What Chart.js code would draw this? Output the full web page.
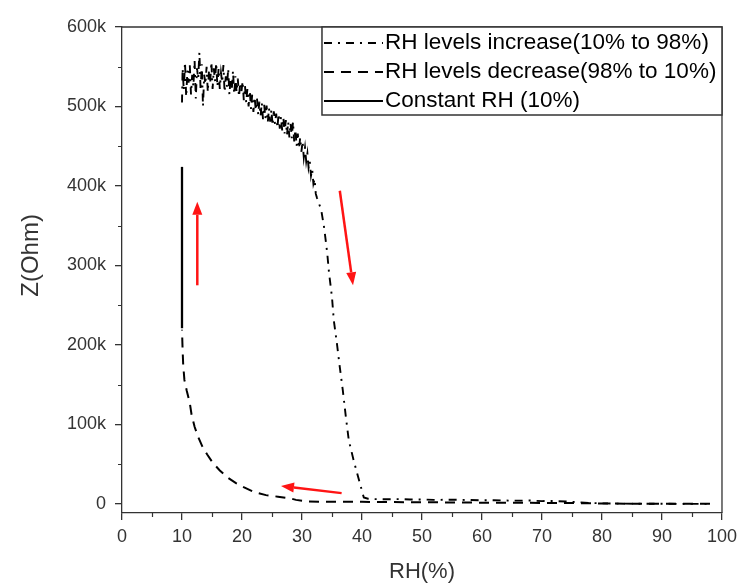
<!DOCTYPE html>
<html>
<head>
<meta charset="utf-8">
<title>Impedance vs RH</title>
<script src="https://cdn.jsdelivr.net/npm/chart.js@4.4.1/dist/chart.umd.min.js"></script>
<style>
  html, body { margin: 0; padding: 0; background: #fff; }
  canvas { display: block; }
</style>
</head>
<body>
<canvas id="chart" width="743" height="585"></canvas>
<script>
// Relative humidity (%) and impedance (kOhm) while RH is stepped up, 10% -> 98%
const incRH = [
  10.0,10.1,10.3,10.5,10.7,10.9,11.1,11.3,11.5,11.7,
  11.9,12.1,12.3,12.5,12.7,12.9,13.1,13.3,13.5,13.7,
  13.9,14.1,14.3,14.5,14.7,14.9,15.1,15.3,15.5,15.7,
  15.9,16.1,16.3,16.5,16.7,16.9,17.1,17.3,17.5,17.7,
  17.9,18.1,18.3,18.5,18.7,18.9,19.1,19.3,19.5,19.7,
  19.9,20.1,20.3,20.5,20.7,20.9,21.1,21.3,21.5,21.7,
  21.9,22.1,22.3,22.5,22.7,22.9,23.1,23.3,23.5,23.7,
  23.9,24.1,24.3,24.5,24.7,24.9,25.1,25.3,25.5,25.7,
  25.9,26.1,26.3,26.5,26.7,26.9,27.1,27.3,27.5,27.7,
  27.9,28.1,28.3,28.5,28.7,28.9,29.1,29.3,29.5,29.7,
  29.9,30.1,30.3,30.5,30.7,30.9,31.1,31.3,31.5,31.7,
  31.9,32.1,32.3,32.5,33.2,33.7,34.2,34.5,35.0,35.3,
  35.8,36.3,36.8,37.3,37.8,38.6,39.5,40.3,41,42,
  44,46,48,50,52,55,58,60,62,65,
  68,70,72,74,76,78,80,83,86,90,
  94,98
];
const incZ = [
  505,548,520,556,512,545,530,552,515,540,
  525,558,510,548,535,568,520,553,500,540,
  528,550,518,545,530,556,522,548,532,555,
  525,548,522,542,530,552,518,538,525,548,
  515,535,522,545,515,538,518,535,512,530,
  518,532,508,526,505,522,500,520,497,515,
  493,512,495,510,490,506,488,505,484,502,
  485,501,480,498,481,496,476,494,478,491,
  473,491,472,487,470,486,466,483,464,481,
  461,479,460,481,456,471,450,466,447,461,
  443,456,436,448,431,441,423,431,413,421,
  403,409,390,385,370,347,316,291,260,231,
  203,172,143,110,80,55,30,8,6.5,6,
  5.8,6,5.5,5.5,5,5.2,4.8,4.5,4.6,4,
  4.2,3.5,3.6,3,2,1.2,0.6,0.3,0.2,0.1,
  0,0
];

// RH stepped back down, 98% -> 10%
const decRH = [98,94,90,85,80,75,70,65,60,55,50,45,40,35,31,29,28,26,24,22,
               20,19,17.6,16.3,15.1,14.2,13.4,12.7,12.1,11.6,11.3,10.8,10.4,10.2,10.1,10.0];
const decZ  = [0,0,0,0.2,0.5,1,1.2,1.5,1.5,1.8,2,2.2,2.5,2.5,3,5,7,9,11,15,
               22,26,33,42,52,62,72,84,97,112,127,142,156,175,194,219];

// Held at constant 10% RH
const constRH = [10, 10];
const constZ  = [221, 424];

// Axis ticks
const rhTicks = [0,10,20,30,40,50,60,70,80,90,100];
const rhMinor = [5,15,25,35,45,55,65,75,85,95];
const zTicks  = [0,100,200,300,400,500,600];
const zMinor  = [50,150,250,350,450,550];

// Red direction arrows, in data units [RH, kOhm]
const arrowFrom = [[12.55,275],[36.3,394],[36.6,13.5]];
const arrowTo   = [[12.55,380],[38.5,275],[26.5,22.6]];

const FONT = 'Arial, "Liberation Sans", sans-serif';
const AXIS = '#333';
const TEXT = '#333';
const Y_TITLE = 'Z(Ohm)';

const toPoints = (xs, ys) => xs.map((v, i) => ({ x: v, y: ys[i] }));

function drawArrow(ctx, x1, y1, x2, y2) {
  const ang = Math.atan2(y2 - y1, x2 - x1);
  const headLen = 13, headHalf = 5;
  const bx = x2 - Math.cos(ang) * headLen, by = y2 - Math.sin(ang) * headLen;
  ctx.beginPath();
  ctx.moveTo(x1, y1);
  ctx.lineTo(bx, by);
  ctx.stroke();
  ctx.beginPath();
  ctx.moveTo(x2, y2);
  ctx.lineTo(bx + Math.sin(ang) * headHalf, by - Math.cos(ang) * headHalf);
  ctx.lineTo(bx - Math.sin(ang) * headHalf, by + Math.cos(ang) * headHalf);
  ctx.closePath();
  ctx.fill();
}

const frameExtras = {
  id: 'frameExtras',
  afterDraw(chart) {
    const { ctx, chartArea: a, scales: { x, y } } = chart;
    ctx.save();

    // top and right edges of the frame
    ctx.strokeStyle = AXIS;
    ctx.lineWidth = 1.3;
    ctx.beginPath();
    ctx.moveTo(a.left, a.top);
    ctx.lineTo(a.right, a.top);
    ctx.lineTo(a.right, a.bottom);
    ctx.stroke();

    // minor ticks
    ctx.lineWidth = 1.2;
    ctx.beginPath();
    rhMinor.forEach(v => {
      const px = Math.round(x.getPixelForValue(v)) + 0.5;
      ctx.moveTo(px, a.bottom);
      ctx.lineTo(px, a.bottom + 4);
    });
    zMinor.forEach(v => {
      const py = Math.round(y.getPixelForValue(v)) + 0.5;
      ctx.moveTo(a.left, py);
      ctx.lineTo(a.left - 4, py);
    });
    ctx.stroke();

    // vertical axis title, set a little above the middle of the axis
    ctx.save();
    ctx.translate(31, a.top + (a.bottom - a.top) * 0.47);
    ctx.rotate(-Math.PI / 2);
    ctx.fillStyle = TEXT;
    ctx.font = '24px ' + FONT;
    ctx.textAlign = 'center';
    ctx.textBaseline = 'middle';
    ctx.fillText(Y_TITLE, 0, 0);
    ctx.restore();

    // direction arrows
    ctx.strokeStyle = '#ff1414';
    ctx.fillStyle = '#ff1414';
    ctx.lineWidth = 2.5;
    arrowFrom.forEach((p, i) => {
      const q = arrowTo[i];
      drawArrow(ctx, x.getPixelForValue(p[0]), y.getPixelForValue(p[1]),
                     x.getPixelForValue(q[0]), y.getPixelForValue(q[1]));
    });

    // legend box in the upper right corner
    const lw = 400, lh = 88;
    const lx = a.right - lw, ly = a.top;
    ctx.fillStyle = '#fff';
    ctx.fillRect(lx, ly, lw, lh);
    ctx.strokeStyle = AXIS;
    ctx.lineWidth = 1.5;
    ctx.strokeRect(lx, ly, lw, lh);
    ctx.font = '22.5px ' + FONT;
    ctx.textBaseline = 'middle';
    ctx.textAlign = 'left';
    chart.data.datasets.forEach((ds, i) => {
      const cy = ly + 16 + i * 29;
      ctx.strokeStyle = ds.borderColor;
      ctx.lineWidth = 2;
      ctx.setLineDash(ds.borderDash || []);
      ctx.beginPath();
      ctx.moveTo(lx + 2, cy);
      ctx.lineTo(lx + 61, cy);
      ctx.stroke();
      ctx.setLineDash([]);
      ctx.fillStyle = '#000';
      ctx.fillText(ds.label, lx + 63, cy);
    });

    ctx.restore();
  }
};

new Chart(document.getElementById('chart').getContext('2d'), {
  type: 'line',
  data: {
    datasets: [
      {
        label: 'RH levels increase(10% to 98%)',
        data: toPoints(incRH, incZ),
        borderColor: '#000',
        borderWidth: 1.9,
        borderDash: [8, 6, 2, 6],
        pointRadius: 0,
        tension: 0,
        fill: false
      },
      {
        label: 'RH levels decrease(98% to 10%)',
        data: toPoints(decRH, decZ),
        borderColor: '#000',
        borderWidth: 2,
        borderDash: [10, 7],
        pointRadius: 0,
        tension: 0,
        fill: false
      },
      {
        label: 'Constant RH (10%)',
        data: toPoints(constRH, constZ),
        borderColor: '#000',
        borderWidth: 2.3,
        pointRadius: 0,
        tension: 0,
        fill: false
      }
    ]
  },
  options: {
    responsive: false,
    animation: false,
    devicePixelRatio: 1,
    layout: { padding: { top: 27, right: 18, bottom: 0, left: 0 } },
    plugins: { legend: { display: false }, tooltip: { enabled: false } },
    scales: {
      x: {
        type: 'linear',
        min: 0,
        max: 100,
        afterBuildTicks: s => { s.ticks = rhTicks.map(v => ({ value: v })); },
        afterFit: s => { s.height = 72; },
        grid: { display: true, drawOnChartArea: false, drawTicks: true, tickLength: 7, color: AXIS, lineWidth: 1.3 },
        border: { display: true, color: AXIS, width: 1.3 },
        ticks: { color: TEXT, font: { family: FONT, size: 18 }, padding: 6, maxRotation: 0, autoSkip: false },
        title: { display: true, text: 'RH(%)', color: TEXT, font: { family: FONT, size: 22 }, padding: { top: 0, bottom: 0 } }
      },
      y: {
        type: 'linear',
        min: -11.5,
        max: 600,
        afterBuildTicks: s => { s.ticks = zTicks.map(v => ({ value: v })); },
        afterFit: s => { s.width = 122; },
        grid: { display: true, drawOnChartArea: false, drawTicks: true, tickLength: 7, color: AXIS, lineWidth: 1.3 },
        border: { display: true, color: AXIS, width: 1.3 },
        ticks: {
          color: TEXT,
          font: { family: FONT, size: 18 },
          padding: 9,
          autoSkip: false,
          callback: v => (v === 0 ? '0' : v + 'k')
        },
        title: { display: false }
      }
    }
  },
  plugins: [frameExtras]
});
</script>
</body>
</html>
